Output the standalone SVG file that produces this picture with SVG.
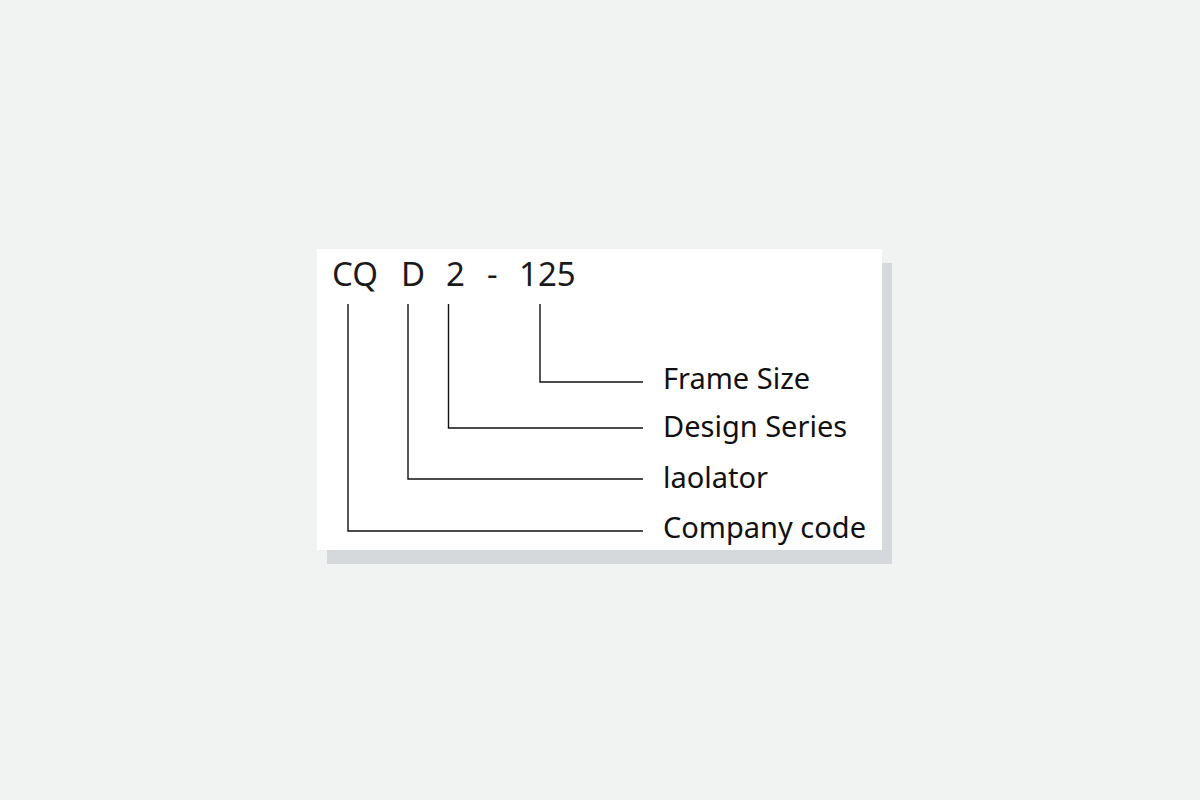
<svg xmlns="http://www.w3.org/2000/svg" width="1200" height="800" viewBox="0 0 1200 800">
<style>
.code{font-family:"Noto Sans","Liberation Sans",sans-serif;font-size:33px;fill:#1a1a1a}
.lbl{font-family:"Noto Sans","Liberation Sans",sans-serif;font-size:29px;fill:#111}
.ln{fill:none;stroke:#111;stroke-width:1.4}
</style>
<rect x="0" y="0" width="1200" height="800" fill="#f0f3f2"/>
<rect x="327" y="263" width="565" height="301" fill="#d5d9dc"/>
<rect x="317" y="249" width="565" height="301" fill="#ffffff"/>
<g id="code">
<text class="code" x="332" y="286">CQ</text>
<text class="code" x="401" y="286">D</text>
<text class="code" x="446" y="286">2</text>
<text class="code" x="487" y="286">-</text>
<text class="code" x="519" y="286">125</text>
</g>
<g id="connectors">
<polyline class="ln" points="540,304 540,382 643,382"/>
<polyline class="ln" points="448.5,304 448.5,428 643,428"/>
<polyline class="ln" points="408,304 408,479 643,479"/>
<polyline class="ln" points="348,304 348,531 643,531"/>
</g>
<g id="frame-size"><text class="lbl" x="663" y="389">Frame Size</text></g>
<g id="design-series"><text class="lbl" x="663" y="437">Design Series</text></g>
<g id="laolator"><text class="lbl" x="663" y="488">laolator</text></g>
<g id="company-code"><text class="lbl" x="663" y="538">Company code</text></g>
</svg>
